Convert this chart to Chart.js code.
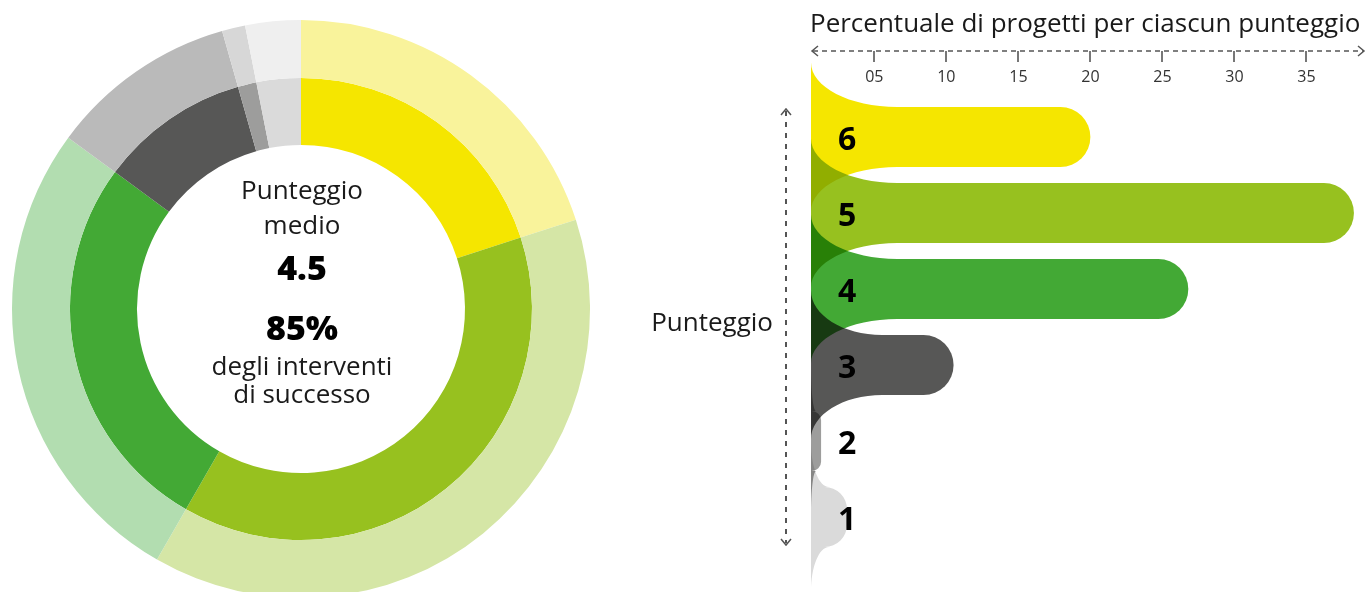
<!DOCTYPE html>
<html lang="it">
<head>
<meta charset="utf-8">
<title>Punteggio medio dei progetti</title>
<script src="https://cdn.jsdelivr.net/npm/chart.js@4.4.1/dist/chart.umd.min.js"></script>
<style>
   html, body { margin: 0; padding: 0; width: 1371px; height: 592px; overflow: hidden; background: #fff; }
   body { position: relative; font-family: 'Open Sans', 'Noto Sans', sans-serif; color: #1a1a1a; }
   #anello { position: absolute; left: 12px; top: 20px; }
   #barre { position: absolute; left: 600px; top: 0; }
   .t { position: absolute; white-space: nowrap; line-height: 1; font-size: 26px; font-weight: 400; }
   .centro { left: 152px; width: 300px; text-align: center; }
   .grande { font-size: 34px; font-weight: 800; color: #000; }
</style>
</head>
<body>
<canvas id="anello" width="578" height="578"></canvas>
<canvas id="barre" width="771" height="592"></canvas>

<div class="t centro" style="top:176px">Punteggio</div>
<div class="t centro" style="top:211px">medio</div>
<div class="t centro grande" style="top:250px" id="media"></div>
<div class="t centro grande" style="top:310px" id="successo"></div>
<div class="t centro" style="top:352px">degli interventi</div>
<div class="t centro" style="top:380px">di successo</div>

<div class="t" style="left:810px; top:9px;">Percentuale di progetti per ciascun punteggio</div>
<div class="t" style="right:598px; top:308px;">Punteggio</div>

<script>
// dati
var punteggi = ['6', '5', '4', '3', '2', '1'];
var percentuali = [20.0, 38.3, 26.8, 10.5, 1.3, 3.1];
var tickValori = [5, 10, 15, 20, 25, 30, 35];
var mediaPunteggio = '4.5';
var quotaSuccesso = '85%';

var coloriPieni = ['#f5e600', '#97c11f', '#43a935', '#575756', '#9d9d9c', '#dadada'];
var coloriChiari = ['#f9f39b', '#d5e6a6', '#b2ddb0', '#bababa', '#d7d7d7', '#efefef'];

document.getElementById('media').textContent = mediaPunteggio;
document.getElementById('successo').textContent = quotaSuccesso;

// ANELLO
new Chart('anello', {
   type: 'doughnut',
   data: {
      labels: punteggi,
      datasets: [
         { data: percentuali, backgroundColor: coloriChiari, borderWidth: 0, weight: 58 },
         { data: percentuali, backgroundColor: coloriPieni, borderWidth: 0, weight: 67 },
      ],
   },
   options: {
      responsive: false,
      animation: false,
      cutout: 164,
      layout: { padding: 0 },
      plugins: { legend: { display: false }, tooltip: { enabled: false } },
   },
});

// sfumature a sinistra delle barre + frecce degli assi
var decorazioni = {
   id: 'decorazioni',
   afterDatasetsDraw(chart) {
      var ctx = chart.ctx;
      var a = chart.chartArea;
      var xs = chart.scales.x;
      var ys = chart.scales.y;
      var passo = ys.getPixelForValue(1) - ys.getPixelForValue(0);
      var H = passo * 0.98;
      var wMax = xs.getPixelForValue(6) - xs.getPixelForValue(0);
      var k = 0.5523;
      ctx.save();
      ctx.globalCompositeOperation = 'multiply';
      chart.getDatasetMeta(0).data.forEach(function (bar, i) {
         var p = bar.getProps(['x', 'y', 'height'], true);
         var h = p.height / 2;
         var w = Math.min(wMax, (p.x - a.left) * 0.5);
         ctx.fillStyle = coloriPieni[i];
         [-1, 1].forEach(function (s) {
            ctx.beginPath();
            ctx.moveTo(a.left, p.y + s * H);
            ctx.bezierCurveTo(a.left, p.y + s * (H - k * (H - h)), a.left + w - k * w, p.y + s * h, a.left + w, p.y + s * h);
            ctx.lineTo(a.left, p.y + s * h);
            ctx.closePath();
            ctx.fill();
         });
      });
      ctx.restore();
   },
   afterDraw(chart) {
      var ctx = chart.ctx;
      var a = chart.chartArea;
      var xs = chart.scales.x;
      var yl = a.top - 48;
      var xl = a.left - 25;
      ctx.save();
      ctx.strokeStyle = '#555';
      ctx.lineWidth = 1.5;
      ctx.setLineDash([5, 4]);
      ctx.beginPath();
      ctx.moveTo(a.left + 2, yl);
      ctx.lineTo(a.right - 1, yl);
      ctx.stroke();
      ctx.lineWidth = 2;
      ctx.setLineDash([5, 6]);
      ctx.beginPath();
      ctx.moveTo(xl, a.top + 12);
      ctx.lineTo(xl, a.bottom - 12);
      ctx.stroke();
      ctx.setLineDash([]);
      ctx.lineWidth = 1.5;
      ctx.beginPath();
      ctx.moveTo(a.left + 7, yl - 5); ctx.lineTo(a.left + 1, yl); ctx.lineTo(a.left + 7, yl + 5);
      ctx.moveTo(a.right - 6, yl - 5); ctx.lineTo(a.right, yl); ctx.lineTo(a.right - 6, yl + 5);
      ctx.moveTo(xl - 5, a.top + 16); ctx.lineTo(xl, a.top + 10); ctx.lineTo(xl + 5, a.top + 16);
      ctx.moveTo(xl - 5, a.bottom - 16); ctx.lineTo(xl, a.bottom - 10); ctx.lineTo(xl + 5, a.bottom - 16);
      ctx.stroke();
      ctx.strokeStyle = '#777';
      ctx.lineWidth = 2;
      ctx.beginPath();
      tickValori.forEach(function (v) {
         var px = Math.round(xs.getPixelForValue(v));
         ctx.moveTo(px, yl);
         ctx.lineTo(px, yl + 11);
      });
      ctx.stroke();
      ctx.restore();
   },
};

// BARRE PUNTEGGIO
new Chart('barre', {
   type: 'bar',
   data: {
      labels: punteggi,
      datasets: [
         {
            data: percentuali,
            backgroundColor: coloriPieni,
            borderWidth: 0,
            borderRadius: 30,
            borderSkipped: 'start',
            inflateAmount: 0,
            barThickness: 60,
         },
      ],
   },
   options: {
      indexAxis: 'y',
      responsive: false,
      animation: false,
      layout: { padding: { top: 55, left: 211, right: 7, bottom: 37 } },
      plugins: { legend: { display: false }, tooltip: { enabled: false } },
      scales: {
         x: {
            position: 'top',
            min: 0.6,
            max: 39,
            grid: { display: false, drawTicks: false },
            border: { display: false },
            afterBuildTicks: function (s) {
               s.ticks = tickValori.map(function (v) { return { value: v }; });
            },
            afterFit: function (s) {
               s.height = 44;
               s.paddingLeft = 0;
               s.paddingRight = 0;
            },
            ticks: {
               padding: 12,
               color: '#333',
               font: { family: "'Open Sans', sans-serif", size: 16 },
               callback: function (v) { return v < 10 ? '0' + v : String(v); },
            },
         },
         y: {
            grid: { display: false, drawTicks: false },
            border: { display: false },
            afterFit: function (s) {
               s.width = 0;
               s.paddingTop = 0;
               s.paddingBottom = 0;
            },
            ticks: {
               mirror: true,
               padding: 27,
               labelOffset: 4,
               z: 1,
               color: '#000',
               font: { family: "'Open Sans', sans-serif", size: 32, weight: 'bold' },
            },
         },
      },
   },
   plugins: [decorazioni],
});
</script>
</body>
</html>
